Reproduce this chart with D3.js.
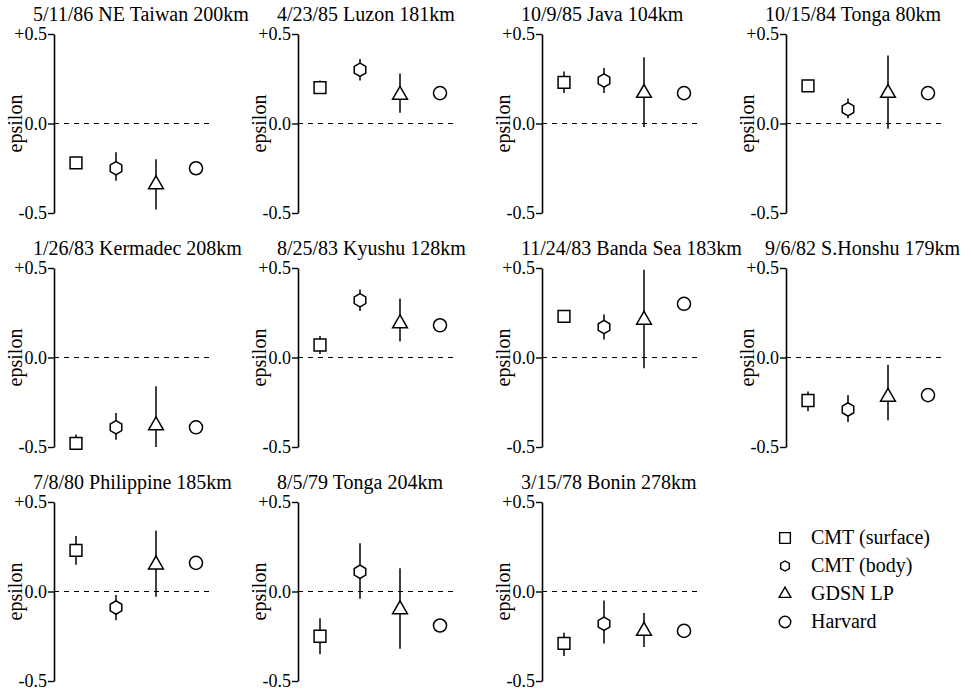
<!DOCTYPE html>
<html>
<head>
<meta charset="utf-8">
<script src="https://cdn.jsdelivr.net/npm/d3@7"></script>
<style>
  body { margin: 0; background: #fff; }
  text { font-family: "Liberation Serif", "Times New Roman", Times, serif; fill: #000; }
</style>
</head>
<body>
<svg id="chart" width="971" height="694"></svg>
<script>
// Events (date, region, depth), one small panel each
const events = [
  "5/11/86 NE Taiwan 200km", "4/23/85 Luzon 181km", "10/9/85 Java 104km", "10/15/84 Tonga 80km",
  "1/26/83 Kermadec 208km", "8/25/83 Kyushu 128km", "11/24/83 Banda Sea 183km", "9/6/82 S.Honshu 179km",
  "7/8/80 Philippine 185km", "8/5/79 Tonga 204km", "3/15/78 Bonin 278km"
];

// Source of each estimate
const methods = ["CMT (surface)", "CMT (body)", "GDSN LP", "Harvard"];

// epsilon estimate per event, in the order of methods
const epsilon = [
  [-0.22, -0.25, -0.34, -0.25],
  [ 0.20,  0.30,  0.16,  0.17],
  [ 0.23,  0.24,  0.17,  0.17],
  [ 0.21,  0.08,  0.17,  0.17],
  [-0.48, -0.39, -0.38, -0.39],
  [ 0.07,  0.32,  0.19,  0.18],
  [ 0.23,  0.17,  0.21,  0.30],
  [-0.24, -0.29, -0.22, -0.21],
  [ 0.23, -0.09,  0.15,  0.16],
  [-0.25,  0.11, -0.10, -0.19],
  [-0.29, -0.18, -0.22, -0.22]
];

// lower / upper ends of the error bars (null = no bar)
const errLow = [
  [-0.24, -0.32, -0.48, null],
  [ 0.17,  0.24,  0.06, null],
  [ 0.17,  0.17, -0.02, null],
  [ 0.18,  0.03, -0.03, null],
  [-0.50, -0.46, -0.50, null],
  [ 0.02,  0.26,  0.09, null],
  [ 0.20,  0.10, -0.06, null],
  [-0.30, -0.36, -0.35, null],
  [ 0.15, -0.16, -0.03, null],
  [-0.35, -0.04, -0.32, null],
  [-0.36, -0.29, -0.31, null]
];
const errHigh = [
  [-0.20, -0.16, -0.20, null],
  [ 0.24,  0.36,  0.28, null],
  [ 0.29,  0.31,  0.37, null],
  [ 0.24,  0.14,  0.38, null],
  [-0.43, -0.31, -0.16, null],
  [ 0.12,  0.38,  0.33, null],
  [ 0.26,  0.24,  0.49, null],
  [-0.19, -0.21, -0.04, null],
  [ 0.31, -0.02,  0.34, null],
  [-0.15,  0.27,  0.13, null],
  [-0.23, -0.05, -0.12, null]
];

const yTicks = [-0.5, 0, 0.5];
const yLabel = "epsilon";

// ---- layout ----
const svg = d3.select("#chart");
const colX = [54, 298, 542, 786];
const rowY = [34, 268, 502];
const axisH = 179;

// pointy-top hexagon symbol for the body-wave CMT estimates
const symbolHexagon = {
  draw(context, size) {
    const r = Math.sqrt(size / (1.5 * Math.sqrt(3)));
    for (let k = 0; k < 6; k++) {
      const a = Math.PI / 2 + k * Math.PI / 3;
      const px = r * Math.cos(a), py = -r * Math.sin(a);
      if (k === 0) context.moveTo(px, py); else context.lineTo(px, py);
    }
    context.closePath();
  }
};
const symbolTypes = [d3.symbolSquare, symbolHexagon, d3.symbolTriangle, d3.symbolCircle];
const symbolSizes = [140, 115, 95, 135];
const legendSizes = [115, 65, 60, 105];

const x = d3.scalePoint().domain(methods).range([22, 142]);
const y = d3.scaleLinear().domain([-0.5, 0.5]).range([axisH, 0]);

const fmt = d => d === 0 ? "0.0" : (d > 0 ? "+" : "-") + Math.abs(d).toFixed(1);

events.forEach((title, i) => {
  const g = svg.append("g")
    .attr("transform", `translate(${colX[i % 4]},${rowY[Math.floor(i / 4)]})`);

  g.append("text")
    .attr("x", -21).attr("y", -13)
    .attr("font-size", 20)
    .text(title);

  // zero reference
  g.append("line")
    .attr("x1", 0).attr("x2", 157)
    .attr("y1", y(0)).attr("y2", y(0))
    .attr("stroke", "#000").attr("stroke-width", 1.2)
    .attr("stroke-dasharray", "5,5");

  const ax = g.append("g")
    .call(d3.axisLeft(y).tickValues(yTicks).tickFormat(fmt).tickSizeInner(6).tickSizeOuter(0).tickPadding(1));
  ax.select(".domain").attr("stroke", "#000").attr("stroke-width", 1.6);
  ax.selectAll(".tick line").attr("stroke", "#000").attr("stroke-width", 1.4);
  ax.selectAll(".tick text")
    .attr("font-size", 18)
    .attr("font-family", '"Liberation Serif", "Times New Roman", serif');

  g.append("text")
    .attr("transform", `translate(-32,${y(0)}) rotate(-90)`)
    .attr("text-anchor", "middle")
    .attr("font-size", 20)
    .text(yLabel);

  // error bars
  methods.forEach((m, j) => {
    if (errLow[i][j] === null) return;
    g.append("line")
      .attr("x1", x(m)).attr("x2", x(m))
      .attr("y1", y(errLow[i][j])).attr("y2", y(errHigh[i][j]))
      .attr("stroke", "#000").attr("stroke-width", 1.5);
  });

  // estimates
  methods.forEach((m, j) => {
    g.append("path")
      .attr("transform", `translate(${x(m)},${y(epsilon[i][j])})`)
      .attr("d", d3.symbol().type(symbolTypes[j]).size(symbolSizes[j])())
      .attr("fill", "#fff").attr("stroke", "#000").attr("stroke-width", 1.5);
  });
});

// legend in the empty twelfth cell
const legend = svg.append("g").attr("transform", "translate(785,538)");
methods.forEach((m, j) => {
  const row = legend.append("g").attr("transform", `translate(0,${j * 28})`);
  row.append("path")
    .attr("d", d3.symbol().type(symbolTypes[j]).size(legendSizes[j])())
    .attr("fill", "#fff").attr("stroke", "#000").attr("stroke-width", 1.4);
  row.append("text")
    .attr("x", 26).attr("y", 6)
    .attr("font-size", 20)
    .text(m);
});
</script>
</body>
</html>
